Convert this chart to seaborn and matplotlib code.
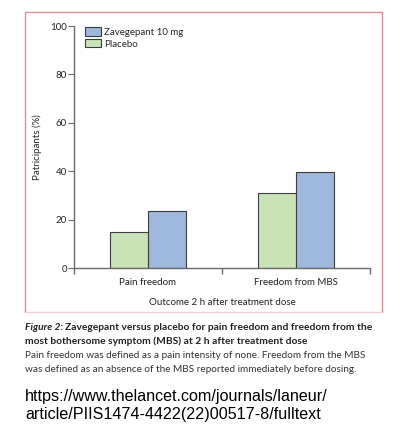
import numpy as np
import pandas as pd
import matplotlib
matplotlib.use("Agg")
import matplotlib.pyplot as plt
import seaborn as sns
from matplotlib.lines import Line2D
from matplotlib.patches import Patch

outcomes = ["Pain freedom", "Freedom from MBS"]
groups = ["Placebo", "Zavegepant 10 mg"]
placebo_pct = [15.0, 31.1]
zavegepant_pct = [23.6, 39.6]
y_ticks = [0, 20, 40, 60, 80, 100]

green = "#c9e3b6"
blue = "#9db8dc"
edge = "#3c3c3c"
axis_grey = "#6b6b6b"

data = pd.DataFrame({
    "outcome": outcomes * 2,
    "group": [groups[0]] * 2 + [groups[1]] * 2,
    "pct": placebo_pct + zavegepant_pct,
})

sns.set_style("white")
plt.rcParams["font.family"] = ["Lato", "DejaVu Sans"]

fig = plt.figure(figsize=(4.05, 4.47), dpi=100)
ax = fig.add_axes([0.1827, 0.4004, 0.7309, 0.5414])

sns.barplot(
    data=data, x="outcome", y="pct", hue="group", order=outcomes,
    hue_order=groups, palette=[green, blue], width=0.51, ax=ax,
    edgecolor=edge, linewidth=0.8, legend=False, saturation=1,
)

ax.set_xlim(-0.5, 1.5)
ax.set_ylim(0, 100)
ax.set_yticks(y_ticks)
ax.set_yticklabels([str(t) for t in y_ticks], fontsize=7, color="#222222")
ax.set_xticks([0, 1])
ax.set_xticklabels(outcomes, fontsize=7, color="#222222")
ax.tick_params(axis="x", which="major", length=0, pad=7)
ax.set_xticks([-0.5, 0.5, 1.5], minor=True)
ax.tick_params(axis="x", which="minor", bottom=True, length=4, width=1,
               color=axis_grey, direction="out")
ax.tick_params(axis="y", left=True, length=4, width=0.8, color=axis_grey,
               direction="out", pad=1)

for side in ["top", "right"]:
    ax.spines[side].set_visible(False)
for side in ["left", "bottom"]:
    ax.spines[side].set_color(axis_grey)
    ax.spines[side].set_linewidth(1.0)

ax.set_ylabel("Patricipants (%)", fontsize=7, color="#222222", labelpad=6)
ax.set_xlabel("Outcome 2 h after treatment dose", fontsize=7, color="#222222", labelpad=8)

handles = [
    Patch(facecolor=blue, edgecolor=edge, linewidth=0.8, label=groups[1]),
    Patch(facecolor=green, edgecolor=edge, linewidth=0.8, label=groups[0]),
]
ax.legend(
    handles=handles, loc="upper left", bbox_to_anchor=(0.025, 1.01), frameon=False,
    fontsize=7, handlelength=1.6, handleheight=0.9, handletextpad=0.3,
    labelspacing=0.25, borderaxespad=0,
)

# pink frame around the figure panel
x0, x1 = 25 / 405, 382 / 405
y0, y1 = 1 - 312 / 447, 1 - 12 / 447
fig.add_artist(Line2D([x0, x0, x1, x1], [y0, y1, y1, y0], color="#df8d9a", lw=1.0))
fig.add_artist(Line2D([x0, x1], [y0, y0], color="#f4cfd5", lw=1.0))

cap_x = 25 / 405
fig.text(cap_x, 1 - 327 / 447, "Figure 2:", fontsize=7.4, fontweight="bold",
         fontstyle="italic", color="#222222", va="center")
fig.text(cap_x + 40 / 405, 1 - 327 / 447,
         "Zavegepant versus placebo for pain freedom and freedom from the",
         fontsize=7.4, fontweight="bold", color="#222222", va="center")
fig.text(cap_x, 1 - 341 / 447,
         "most bothersome symptom (MBS) at 2 h after treatment dose",
         fontsize=7.4, fontweight="bold", color="#222222", va="center")
fig.text(cap_x, 1 - 356 / 447,
         "Pain freedom was defined as a pain intensity of none. Freedom from the MBS",
         fontsize=7.2, color="#333333", va="center")
fig.text(cap_x, 1 - 370 / 447,
         "was defined as an absence of the MBS reported immediately before dosing.",
         fontsize=7.2, color="#333333", va="center")

fig.text(cap_x, 1 - 397 / 447, "https://www.thelancet.com/journals/laneur/",
         fontsize=11.6, family=["Liberation Sans", "DejaVu Sans"], color="black", va="center")
fig.text(cap_x, 1 - 415 / 447, "article/PIIS1474-4422(22)00517-8/fulltext",
         fontsize=11.6, family=["Liberation Sans", "DejaVu Sans"], color="black", va="center")

fig.savefig("out.png", dpi=100)
